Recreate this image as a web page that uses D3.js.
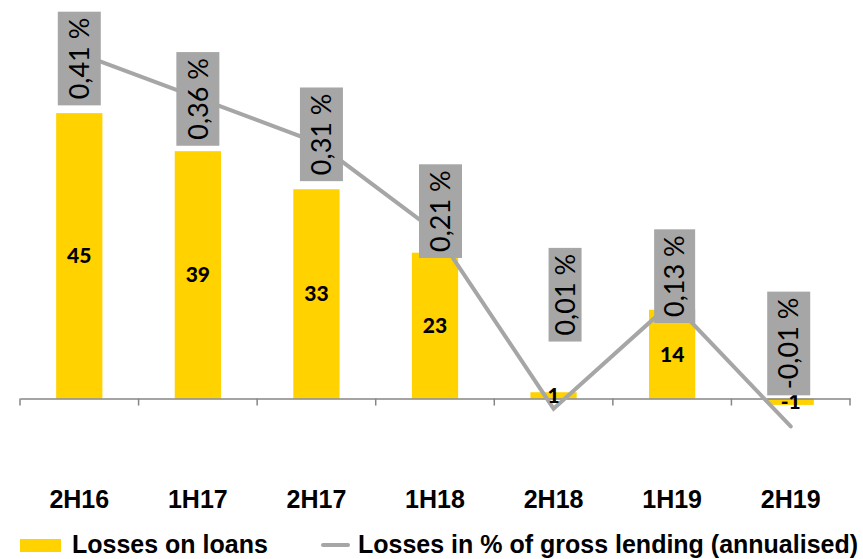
<!DOCTYPE html>
<html>
<head>
<meta charset="utf-8">
<script src="https://cdn.jsdelivr.net/npm/d3@7"></script>
<style>
  html, body { margin: 0; padding: 0; background: #ffffff; }
  svg { display: block; }
</style>
</head>
<body>
<svg id="chart" width="863" height="559"></svg>
<script>
// Half-year periods
const periods = ["2H16", "1H17", "2H17", "1H18", "2H18", "1H19", "2H19"];
// Losses on loans (bars)
const lossesOnLoans = [45, 39, 33, 23, 1, 14, -1];
// Losses in % of gross lending, annualised (line)
const lossesPct = [0.41, 0.36, 0.31, 0.21, 0.01, 0.13, -0.01];
// Axis ranges
const barDomain = [-10, 60];
const pctDomain = [-0.05, 0.45];

// Placement of the percentage callouts relative to their points
const pctLabelLayout = [
  { dx: 0,    dy: 5,    w: 43 },
  { dx: 0,    dy: 1,    w: 43 },
  { dx: 5,    dy: -8,   w: 43 },
  { dx: 5.5,  dy: -20,  w: 43 },
  { dx: 11.5, dy: -114, w: 33 },
  { dx: 2.5,  dy: -26,  w: 41 },
  { dx: -2,   dy: -83,  w: 43 }
];

const YELLOW = "#FFD200";
const GREY = "#A6A6A6";
const AXIS = "#868686";

const svg = d3.select("#chart");
const plot = { left: 20, right: 850, top: 18, bottom: 462 };

const x = d3.scaleBand().domain(periods).range([plot.left, plot.right]).padding(0);
const y = d3.scaleLinear().domain(barDomain).range([plot.bottom, plot.top]);
const y2 = d3.scaleLinear().domain(pctDomain).range([plot.bottom, plot.top]);

const locale = d3.formatLocale({ decimal: ",", thousands: " ", grouping: [3], currency: ["", ""], minus: "-" });
const fmtPct = v => locale.format(".2f")(v) + " %";

const barW = x.bandwidth() * 0.39;
const cx = d => x(d) + x.bandwidth() / 2;

// Bars
svg.append("g").selectAll("rect")
  .data(periods)
  .join("rect")
  .attr("x", d => cx(d) - barW / 2)
  .attr("width", barW)
  .attr("y", (d, i) => Math.min(y(lossesOnLoans[i]), y(0)))
  .attr("height", (d, i) => Math.abs(y(lossesOnLoans[i]) - y(0)))
  .attr("fill", YELLOW);

// Category axis along the zero line
const xAxis = svg.append("g")
  .attr("transform", `translate(0,${y(0)})`)
  .call(d3.axisBottom(x).tickSize(0).tickFormat(""));
xAxis.select(".domain").attr("stroke", AXIS).attr("stroke-width", 1.5);
const boundaries = periods.map(p => x(p)).concat([plot.right]);
xAxis.append("g").selectAll("line")
  .data(boundaries)
  .join("line")
  .attr("x1", d => d).attr("x2", d => d)
  .attr("y1", 0).attr("y2", 7)
  .attr("stroke", AXIS).attr("stroke-width", 1.5);

// Category labels below the plot
svg.append("g").selectAll("text")
  .data(periods)
  .join("text")
  .attr("x", d => cx(d))
  .attr("y", 508)
  .attr("text-anchor", "middle")
  .attr("font-family", "Liberation Sans, Arial, sans-serif")
  .attr("font-weight", "bold")
  .attr("font-size", 25)
  .attr("fill", "#000")
  .text(d => d);

// Percentage line
const line = d3.line()
  .x((d, i) => cx(periods[i]))
  .y(d => y2(d));
svg.append("path")
  .datum(lossesPct)
  .attr("d", line)
  .attr("fill", "none")
  .attr("stroke", GREY)
  .attr("stroke-width", 4)
  .attr("stroke-linejoin", "miter")
  .attr("stroke-linecap", "round");

// Bar value labels
svg.append("g").selectAll("text")
  .data(periods)
  .join("text")
  .attr("x", d => cx(d))
  .attr("y", (d, i) => (y(lossesOnLoans[i]) + y(0)) / 2)
  .attr("dy", "0.36em")
  .attr("text-anchor", "middle")
  .attr("font-family", "Lato, sans-serif")
  .attr("font-weight", 900)
  .attr("font-size", 21)
  .attr("fill", "#000")
  .text((d, i) => lossesOnLoans[i]);

// Percentage callouts: grey boxes with vertical text
const callouts = svg.append("g").selectAll("g")
  .data(periods)
  .join("g")
  .attr("transform", (d, i) => {
    const L = pctLabelLayout[i];
    return `translate(${cx(d) + L.dx},${y2(lossesPct[i]) + L.dy}) rotate(-90)`;
  });
callouts.append("rect").attr("fill", GREY);
callouts.append("text")
  .attr("text-anchor", "middle")
  .attr("dy", "0.36em")
  .attr("font-family", "Lato, sans-serif")
  .attr("font-size", 27)
  .attr("fill", "#000")
  .text((d, i) => fmtPct(lossesPct[i]));
callouts.each(function(d, i) {
  const g = d3.select(this);
  const len = g.select("text").node().getComputedTextLength();
  const h = len + 12;
  const w = pctLabelLayout[i].w;
  g.select("rect")
    .attr("x", -h / 2).attr("y", -w / 2)
    .attr("width", h).attr("height", w);
});

// Legend
const legend = svg.append("g");
legend.append("rect")
  .attr("x", 20).attr("y", 539).attr("width", 41).attr("height", 13)
  .attr("fill", YELLOW);
legend.append("text")
  .attr("x", 72).attr("y", 553)
  .attr("font-family", "Liberation Sans, Arial, sans-serif")
  .attr("font-weight", "bold").attr("font-size", 25)
  .text("Losses on loans");
legend.append("line")
  .attr("x1", 323).attr("x2", 348).attr("y1", 545).attr("y2", 545)
  .attr("stroke", GREY).attr("stroke-width", 4).attr("stroke-linecap", "round");
legend.append("text")
  .attr("x", 358).attr("y", 553)
  .attr("font-family", "Liberation Sans, Arial, sans-serif")
  .attr("font-weight", "bold").attr("font-size", 25)
  .text("Losses in % of gross lending (annualised)");
</script>
</body>
</html>
